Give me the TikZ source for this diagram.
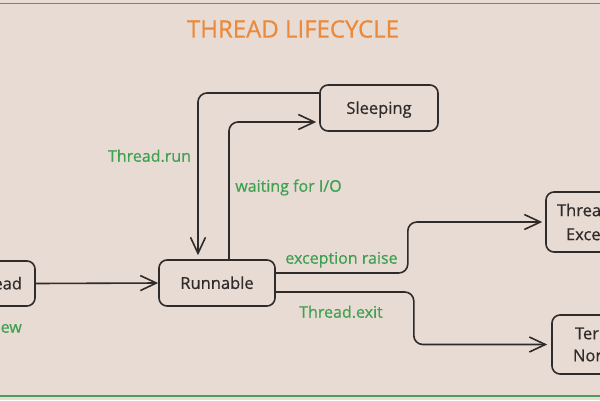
\documentclass[tikz,border=0pt]{standalone}
\usepackage{fontspec}
\setmainfont{Open Sans}[FakeBold=0.6]
\usetikzlibrary{arrows.meta}
\definecolor{bgbeige}{HTML}{E8DBD3}
\definecolor{lblgreen}{HTML}{3FA052}
\definecolor{ttlorange}{HTML}{EA8A3A}
\definecolor{inkgray}{HTML}{2E2B2A}
\definecolor{rulegreen}{HTML}{4A9E58}

\begin{document}
\begin{tikzpicture}[x=10pt,y=10pt]
\tikzstyle{state}=[draw=inkgray, line width=1.6pt, rounded corners=8pt, text=inkgray, font=\fontsize{16.5}{20}\selectfont, inner sep=0pt]
\tikzstyle{oneline}=[text height=11.8pt, text depth=0pt]
\tikzstyle{lbl}=[text=lblgreen, font=\fontsize{16}{19}\selectfont, inner sep=0pt, text height=11.4pt, text depth=0pt]
\tikzstyle{link}=[draw=inkgray, line width=1.6pt, rounded corners=9pt, -{Straight Barb[length=16pt,width=15pt]}]
\useasboundingbox (0,0) rectangle (60,-40);
\clip (0,0) rectangle (60,-40);
\fill [bgbeige] (0,0) rectangle (60,-40);
\draw [rulegreen, line width=1.2pt] (0,-0.35) -- (60,-0.35);
\draw [rulegreen, line width=1.2pt] (0,-39.6) -- (60,-39.6);
\node [text=ttlorange, font=\fontsize{24}{28}\selectfont, inner sep=0pt] (title) at (29.3,-2.9) {THREAD LIFECYCLE};
% states
\node [state, oneline, minimum width=118pt, minimum height=46pt] (sleep) at (37.9,-10.8) {Sleeping};
\node [state, oneline, minimum width=116pt, minimum height=46pt] (run) at (21.7,-28.3) {Runnable};
\node [state, oneline, minimum width=110pt, minimum height=45pt, text width=84pt, align=right] (newt) at (-2.0,-28.35) {ead};
\node [state, font=\fontsize{16.5}{24}\selectfont, minimum width=110pt, minimum height=60pt, text width=88pt, align=left] (exc) at (60.1,-22.2) {Threa\\\hspace*{9pt}Exce};
\node [state, font=\fontsize{16.5}{22}\selectfont, minimum width=110pt, minimum height=59pt, text width=68pt, align=left] (term) at (60.7,-34.45) {\hspace*{2pt}Ter\\Nor};
% transitions
\draw [link] (newt.east) -- (run.west);
\draw [link, shorten >=4pt] (sleep.west |- 0,-9.3) -| (run.north -| 19.8,0);
\draw [link, shorten >=3pt] (run.north -| 22.9,0) |- (sleep.west |- 0,-12.2);
\draw [link, shorten >=3pt] (run.east |- 0,-27.3) -- ++(13.2,0) |- (exc.west);
\draw [link, shorten >=4pt] (run.east |- 0,-29.2) -- ++(13.8,0) |- (term.west);
% labels
\node [lbl] (lrun) at (14.95,-15.6) {Thread.run};
\node [lbl] (lwait) at (28.85,-18.6) {waiting for I/O};
\node [lbl] (lexc) at (34.15,-25.8) {exception raise};
\node [lbl] (lexit) at (34.1,-31.2) {Thread.exit};
\node [lbl, anchor=east] (lnew) at (2.2,-32.7) {ew};
\end{tikzpicture}
\end{document}
